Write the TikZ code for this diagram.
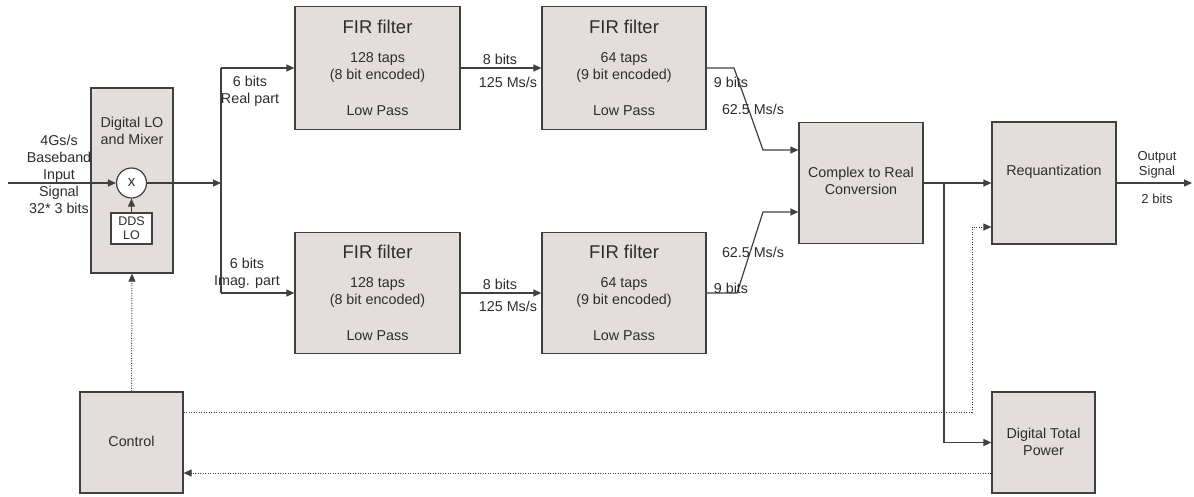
\documentclass[tikz,border=0pt]{standalone}
\usepackage{fontspec}
\setmainfont{Liberation Sans}
\usetikzlibrary{arrows.meta}
\definecolor{boxfill}{RGB}{227,222,220}
\definecolor{linec}{RGB}{64,64,64}
\definecolor{txtc}{RGB}{45,45,45}
\begin{document}
\begin{tikzpicture}[x=1pt,y=-1pt,
  blk/.style={draw=linec, fill=boxfill, line width=1.2pt, inner sep=0pt},
  lbl/.style={font=\fontsize{14.3}{17}\selectfont, text=txtc, align=center, inner sep=0pt},
  big/.style={font=\fontsize{18.5}{22}\selectfont, text=txtc, inner sep=0pt},
  wire/.style={draw=linec, line width=1.2pt},
  arr/.style={wire, -{Triangle[length=8pt,width=7pt]}},
  dotarr/.style={draw=linec, line width=1pt, dash pattern=on 1pt off 1.5pt, -{Triangle[length=8pt,width=7pt]}}]
\fill[white] (0,0) rectangle (1194,496);
\useasboundingbox (0,0) rectangle (1194,496);

% blocks
\node[blk, minimum width=82, minimum height=185] (mix) at (132,180.5) {};
\node[lbl] (mixt) at (132,131) {Digital LO\\and Mixer};
\node[circle, draw=linec, fill=white, line width=1.2pt, minimum size=30, inner sep=0pt,
      font=\fontsize{15}{17}\selectfont, text=txtc] (xm) at (131.5,183) {x};
\node[draw=linec, fill=white, line width=1.2pt, minimum width=41, minimum height=31, inner sep=0pt,
      font=\fontsize{12.5}{14}\selectfont, text=txtc, align=center] (dds) at (131.5,228.5) {DDS\\LO};

\node[blk, minimum width=165, minimum height=123] (fir1) at (377.5,68) {};
\node[blk, minimum width=164, minimum height=123] (fir2) at (624,68) {};
\node[blk, minimum width=165, minimum height=121] (fir3) at (377.5,293) {};
\node[blk, minimum width=164, minimum height=121] (fir4) at (624,293) {};

\node[big] (f1a) at (377.5,27) {FIR filter};
\node[lbl] (f1b) at (377.5,67.5) {128 taps\\(8 bit encoded)};
\node[lbl] (f1c) at (377.5,111) {Low Pass};
\node[big] (f2a) at (624,27) {FIR filter};
\node[lbl] (f2b) at (624,67.5) {64 taps\\(9 bit encoded)};
\node[lbl] (f2c) at (624,111) {Low Pass};
\node[big] (f3a) at (377.5,252) {FIR filter};
\node[lbl] (f3b) at (377.5,292.5) {128 taps\\(8 bit encoded)};
\node[lbl] (f3c) at (377.5,336) {Low Pass};
\node[big] (f4a) at (624,252) {FIR filter};
\node[lbl] (f4b) at (624,292.5) {64 taps\\(9 bit encoded)};
\node[lbl] (f4c) at (624,336) {Low Pass};

\node[blk, minimum width=124, minimum height=121] (cx) at (861,183) {};
\node[lbl] (cxt) at (861,180.5) {Complex to Real\\Conversion};
\node[blk, minimum width=124, minimum height=122] (rq) at (1054,183) {};
\node[lbl] (rqt) at (1054,172) {Requantization};
\node[blk, minimum width=103, minimum height=101] (ctl) at (131.5,442.5) {};
\node[lbl] (ctlt) at (131.5,441) {Control};
\node[blk, minimum width=103, minimum height=101] (dtp) at (1043.5,442.5) {};
\node[lbl] (dtpt) at (1043.5,442) {Digital Total\\Power};

% input
\coordinate (in) at (8,183);
\node[lbl] (inl) at (59,174.5) {4Gs/s\\Baseband\\Input\\Signal\\32* 3 bits};
\draw[arr] (in) -- (xm.west);
\draw[arr] (dds.north) -- (xm.south);

% split
\coordinate (sp) at (221,183);
\coordinate (spt) at (221,68);
\coordinate (spb) at (221,293);
\draw[arr] (xm.east) -- (sp);
\draw[wire] (spt) -- (spb);
\draw[arr] (spt) -- (fir1.west);
\draw[arr] (spb) -- (fir3.west);
\node[lbl] (l6r) at (250,91) {6 bits\\Real part};
\node[lbl] (l6i) at (247,273.5) {6 bits\\Imag. part};

% FIR to FIR
\draw[arr] (fir1.east) -- (fir2.west);
\draw[arr] (fir3.east) -- (fir4.west);
\node[lbl] (l8a) at (500,59) {8 bits};
\node[lbl] (l125a) at (508,82) {125 Ms/s};
\node[lbl] (l8b) at (500,284) {8 bits};
\node[lbl] (l125b) at (508,306) {125 Ms/s};

% FIR to complex
\coordinate (k1) at (734,68);
\coordinate (c1) at (763,150);
\coordinate (k2) at (737,293);
\coordinate (c2) at (763,212);
\draw[arr] (fir2.east) -- (k1) -- (c1) -- (c1 -| cx.west);
\draw[arr] (fir4.east) -- (k2) -- (c2) -- (c2 -| cx.west);
\node[lbl] (l9a) at (731,82) {9 bits};
\node[lbl] (l62a) at (753,109) {62.5 Ms/s};
\node[lbl] (l9b) at (731,288.5) {9 bits};
\node[lbl] (l62b) at (753,252) {62.5 Ms/s};

% complex to requant and power
\draw[arr] (cx.east) -- (rq.west);
\coordinate (br) at (944,183);
\draw[arr] (br) -- (br |- dtp.west) -- (dtp.west);
\coordinate (out) at (1192,183);
\draw[arr] (rq.east) -- (out);
\node[font=\fontsize{13}{15}\selectfont, text=txtc, align=center, inner sep=0pt] (outl) at (1157,164.5) {Output\\Signal};
\node[font=\fontsize{13}{15}\selectfont, text=txtc, inner sep=0pt] (outb) at (1157,199) {2 bits};

% control dotted lines
\coordinate (d1) at (972,412);
\coordinate (d2) at (972,227);
\draw[dotarr] (ctl.east |- d1) -- (d1) -- (d2) -- (d2 -| rq.west);
\coordinate (d3) at (600,473);
\draw[dotarr] (dtp.west |- d3) -- (ctl.east |- d3);
\draw[dotarr] (ctl.north) -- (mix.south);
\end{tikzpicture}
\end{document}
